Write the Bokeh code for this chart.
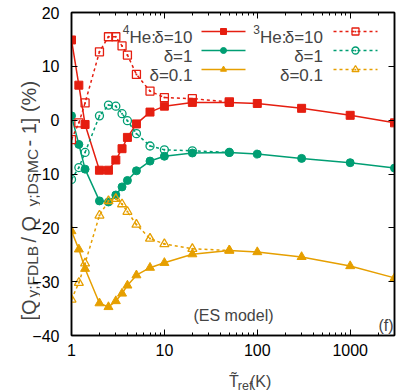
import math
from bokeh.plotting import figure
from bokeh.layouts import row, column
from bokeh.models import Label, LinearAxis, LogAxis, FixedTicker, PrintfTickFormatter, Range1d
from bokeh.embed import file_html
from bokeh.resources import INLINE

# ---------------- data ----------------
t_he4 = [1, 1.2, 1.4, 2, 2.5, 3, 3.5, 4, 5, 7, 10, 20, 50, 100, 300, 1000, 3000]
he4_d10 = [14.9, 6.5, -0.8, -9.3, -9.3, -7.4, -5.3, -3.2, -0.7, 1.5, 2.6, 3.3, 3.3, 3.1, 2.2, 0.9, -0.5]
he4_d1 = [0.8, -4.5, -9.1, -15.0, -15.2, -13.9, -12.4, -11.2, -9.4, -7.6, -6.7, -6.1, -6.0, -6.3, -7.1, -7.9, -8.9]
he4_d01 = [-20.6, -24.0, -27.6, -34.0, -34.7, -33.6, -32.2, -30.7, -28.8, -27.4, -26.5, -24.9, -24.2, -24.5, -25.4, -27.1, -29.3]

t_he3 = [1, 1.2, 1.4, 2, 2.5, 3, 3.5, 4, 5, 7, 10, 20, 50]
he3_d10 = [-3.6, -0.5, 3.2, 12.7, 15.5, 15.5, 13.8, 12.1, 8.5, 5.4, 4.2, 4.0, 3.4]
he3_d1 = [-11.0, -8.8, -6.0, 0.8, 2.8, 2.6, 1.2, -0.1, -2.5, -4.8, -5.5, -5.7, -6.0]
he3_d01 = [-33.3, -30.2, -26.6, -17.7, -15.0, -14.6, -15.6, -17.0, -19.4, -22.0, -23.0, -23.9, -24.2]

x_ticks = [1, 10, 100, 1000]
x_minor = [2, 3, 4, 5, 6, 7, 8, 9, 20, 30, 40, 50, 60, 70, 80, 90,
           200, 300, 400, 500, 600, 700, 800, 900, 2000, 3000]
y_ticks = [-40, -30, -20, -10, 0, 10, 20]

legend_left = ["δ=10", "δ=1", "δ=0.1"]
legend_right = ["δ=10", "δ=1", "δ=0.1"]

RED, GREEN, ORANGE = "#e51e10", "#009e73", "#e69f00"
FONT = "Liberation Sans"
FS = "16px"
LFS = "17px"

X0, X1, Y0, Y1 = 1, 3000, -40, 20
W, H = 399, 392
GL, FT, FW, FH = 71, 12, 323, 323   # frame position in page pixels
FL = 43                             # main figure left border
MX = GL - FL                        # page x where the main figure starts
YLW = 40                            # width of the y-title strip (overlapped by main's transparent border)
XLH = 30                            # height of the x-title strip
MW, MH = W - MX, H - XLH


def px2x(px):
    return X0 * 10 ** ((px - GL) / FW * math.log10(X1 / X0))


def py2y(py):
    return Y1 - (py - FT) / FH * (Y1 - Y0)


p = figure(width=MW, height=MH, x_axis_type="log",
           x_range=Range1d(X0, X1), y_range=Range1d(Y0, Y1),
           output_backend="svg", toolbar_location=None,
           min_border_left=FL, min_border_top=FT,
           min_border_right=MW - FL - FW, min_border_bottom=MH - FT - FH)
p.xgrid.visible = False
p.ygrid.visible = False
p.outline_line_color = "black"
p.outline_line_width = 1.5
p.background_fill_color = "white"
p.border_fill_alpha = 0


def style_axis(ax, labels=True):
    ax.axis_line_color = "black"
    ax.axis_line_width = 1.5
    ax.major_tick_in = 6
    ax.major_tick_out = 0
    ax.minor_tick_in = 3
    ax.minor_tick_out = 0
    ax.major_tick_line_color = "black"
    ax.minor_tick_line_color = "black"
    ax.major_label_text_font = FONT
    ax.major_label_text_color = "black"
    ax.major_label_text_font_size = FS
    if not labels:
        ax.major_label_text_font_size = "2px"
        ax.major_label_text_alpha = 0
        ax.major_label_standoff = 0


xa = p.xaxis[0]
xa.ticker = FixedTicker(ticks=x_ticks, minor_ticks=x_minor)
xa.formatter = PrintfTickFormatter(format="%d")
style_axis(xa)
xa.major_label_standoff = 8

ya = p.yaxis[0]
ya.ticker = FixedTicker(ticks=y_ticks, minor_ticks=[])
style_axis(ya)
ya.major_label_standoff = 12
ya.minor_tick_line_color = None

top = LogAxis(ticker=FixedTicker(ticks=x_ticks, minor_ticks=x_minor))
style_axis(top, labels=False)
p.add_layout(top, "above")
right = LinearAxis(ticker=FixedTicker(ticks=y_ticks, minor_ticks=[]))
style_axis(right, labels=False)
right.minor_tick_line_color = None
p.add_layout(right, "right")

# ---------------- series ----------------
solid = [(he4_d10, RED, "square", 8), (he4_d1, GREEN, "circle", 8), (he4_d01, ORANGE, "triangle", 9)]
hollow = [(he3_d10, RED, "square_dot", 8), (he3_d1, GREEN, "circle_dot", 8), (he3_d01, ORANGE, "triangle_dot", 9)]

for ys, c, m, s in solid:
    p.line(t_he4, ys, line_color=c, line_width=1.5)
    p.scatter(t_he4, ys, marker=m, size=s, fill_color=c, line_color=c)
for ys, c, m, s in hollow:
    p.line(t_he3, ys, line_color=c, line_width=1.5, line_dash="3 3")
    p.scatter(t_he3, ys, marker=m, size=s, fill_alpha=0, line_color=c, line_width=1.3)

# ---------------- legend ----------------
rows = [31, 50, 69]
col_text = [192, 322.5]
col_line = [(201, 245), (333, 377)]
for i, py in enumerate(rows):
    c, m = solid[i][1], solid[i][2]
    x1, x2 = col_line[0]
    p.line([px2x(x1), px2x(x2)], [py2y(py)] * 2, line_color=c, line_width=1.5)
    p.scatter([px2x((x1 + x2) / 2)], [py2y(py)], marker=m, size=6, fill_color=c, line_color=c)
    p.add_layout(Label(x=px2x(col_text[0]), y=py2y(py + 6), text=legend_left[i], text_align="right",
                       text_baseline="alphabetic", text_font=FONT, text_font_size=LFS))
    c, m = hollow[i][1], hollow[i][2]
    x1, x2 = col_line[1]
    p.line([px2x(x1), px2x(x2)], [py2y(py)] * 2, line_color=c, line_width=1.5, line_dash="3 3")
    p.scatter([px2x((x1 + x2) / 2)], [py2y(py)], marker=m, size=7, fill_alpha=0, line_color=c, line_width=1.3)
    p.add_layout(Label(x=px2x(col_text[1]), y=py2y(py + 6), text=legend_right[i], text_align="right",
                       text_baseline="alphabetic", text_font=FONT, text_font_size=LFS))

for cx, iso in [(col_text[0], "4"), (col_text[1], "3")]:
    p.add_layout(Label(x=px2x(cx - 36.5), y=py2y(37), text="He:", text_align="right",
                       text_baseline="alphabetic", text_font=FONT, text_font_size=LFS))
    p.add_layout(Label(x=px2x(cx - 36.5 - 26.5), y=py2y(29), text=iso, text_align="right",
                       text_baseline="alphabetic", text_font=FONT, text_font_size="12px"))

p.add_layout(Label(x=px2x(193), y=py2y(315), text="(ES model)", text_align="left",
                   text_baseline="alphabetic", text_font=FONT, text_font_size=FS))
p.add_layout(Label(x=px2x(393), y=py2y(325), text="(f)", text_align="right",
                   text_baseline="alphabetic", text_font=FONT, text_font_size=FS))


# ---------------- axis-title strips ----------------
def strip(w, h):
    f = figure(width=w, height=h, x_range=Range1d(0, w), y_range=Range1d(0, h),
               output_backend="svg", toolbar_location=None,
               x_axis_location=None, y_axis_location=None,
               min_border=0, min_border_left=0, min_border_right=0,
               min_border_top=0, min_border_bottom=0)
    f.xgrid.visible = False
    f.ygrid.visible = False
    f.outline_line_color = None
    f.background_fill_alpha = 0
    f.border_fill_alpha = 0
    return f


def put(f, text, x, y, fs, angle=0.0):
    f.add_layout(Label(x=x, y=y, text=text, angle=angle, text_align="left",
                       text_baseline="alphabetic", text_font=FONT, text_font_size=fs))


# y title strip: page x in [0, YLW), page y in [0, H)
ys_fig = strip(YLW, H)
ypieces = [("[Q", 320, 28.5, "20px"), ("y;FDLB", 297, 31.5, "15.5px"), (" / Q", 242, 28.5, "20px"),
           ("y;DSMC", 206, 31.5, "15.5px"), (" - 1] (%)", 146, 28.5, "20px")]
for txt, py, px, fs in ypieces:
    put(ys_fig, txt, px, H - py, fs, angle=math.pi / 2)

# x title strip: page x in [MX, W), page y in [MH, H)
xs_fig = strip(MW, XLH)
put(xs_fig, "T\u0303", 209 - MX, H - 381, FS)
put(xs_fig, "ref", 219 - MX, H - 385, "12.5px")
put(xs_fig, "(K)", 233 - MX, H - 381, FS)

main_col = column(p, xs_fig, spacing=0)
main_col.margin = (0, 0, 0, -(YLW - MX))
layout = row(ys_fig, main_col, spacing=0)

open("out.html", "w").write(file_html(layout, INLINE))
